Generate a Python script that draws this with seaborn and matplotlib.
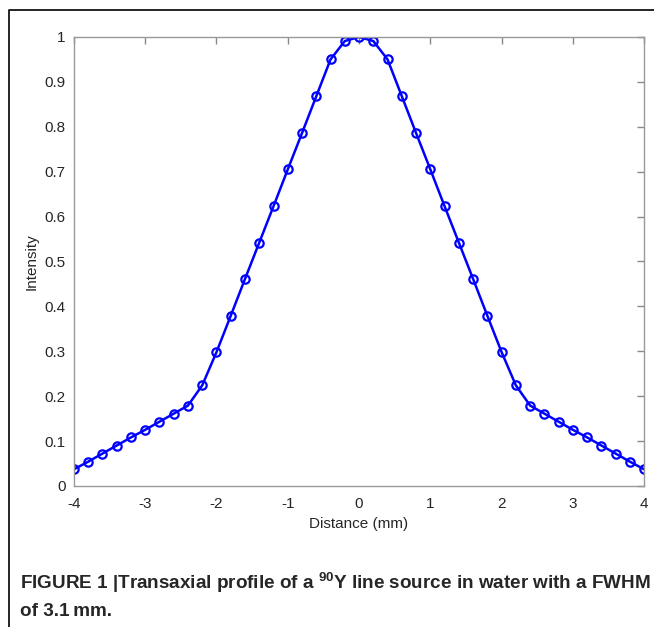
import matplotlib
matplotlib.use("Agg")
import matplotlib.pyplot as plt
import seaborn as sns
import pandas as pd
from matplotlib.lines import Line2D

# profile samples (0.2 mm spacing)
distance = [-4.0, -3.8, -3.6, -3.4, -3.2, -3.0, -2.8, -2.6, -2.4, -2.2, -2.0,
            -1.8, -1.6, -1.4, -1.2, -1.0, -0.8, -0.6, -0.4, -0.2, 0.0,
            0.2, 0.4, 0.6, 0.8, 1.0, 1.2, 1.4, 1.6, 1.8, 2.0,
            2.2, 2.4, 2.6, 2.8, 3.0, 3.2, 3.4, 3.6, 3.8, 4.0]
intensity = [0.037, 0.054, 0.072, 0.090, 0.108, 0.125, 0.143, 0.161, 0.179, 0.224, 0.298,
             0.379, 0.461, 0.542, 0.623, 0.705, 0.786, 0.868, 0.950, 0.991, 1.0,
             0.991, 0.950, 0.868, 0.786, 0.705, 0.623, 0.542, 0.461, 0.379, 0.298,
             0.224, 0.179, 0.161, 0.143, 0.125, 0.108, 0.090, 0.072, 0.054, 0.037]
xticks = [-4, -3, -2, -1, 0, 1, 2, 3, 4]
yticks = [0, 0.1, 0.2, 0.3, 0.4, 0.5, 0.6, 0.7, 0.8, 0.9, 1]
ytick_labels = ["0", "0.1", "0.2", "0.3", "0.4", "0.5", "0.6", "0.7", "0.8", "0.9", "1"]

df = pd.DataFrame({"Distance": distance, "Intensity": intensity})

sns.set_style("white")
plt.rcParams["font.family"] = ["Liberation Sans", "DejaVu Sans"]
plt.rcParams["axes.unicode_minus"] = False
plt.rcParams["mathtext.fontset"] = "custom"
plt.rcParams["mathtext.rm"] = "Liberation Sans"
plt.rcParams["mathtext.bf"] = "Liberation Sans:bold"

fig = plt.figure(figsize=(6.54, 6.27), dpi=100)
ax = fig.add_axes([0.113, 0.225, 0.872, 0.716])

sns.lineplot(data=df, x="Distance", y="Intensity", ax=ax, color="#0000ff",
             linewidth=1.8, marker="o", markersize=6, markerfacecolor="none",
             markeredgecolor="#0000ff", markeredgewidth=1.6)

ax.set_xlim(-4, 4)
ax.set_ylim(0, 1)
ax.set_xticks(xticks)
ax.set_xticklabels([str(t) for t in xticks])
ax.set_yticks(yticks)
ax.set_yticklabels(ytick_labels)
ax.tick_params(direction="in", length=5, width=1, color="#888888", labelsize=11,
               top=True, right=True)
ax.tick_params(axis="x", pad=8)
ax.tick_params(axis="y", pad=6)
for s in ax.spines.values():
    s.set_color("#999999")
    s.set_linewidth(1)
ax.set_xlabel("Distance (mm)", fontsize=11, labelpad=4)
ax.set_ylabel("Intensity", fontsize=11, labelpad=4)

# outer frame of the figure panel
fig.add_artist(Line2D([9 / 654, 9 / 654, 1], [0, 1 - 10 / 627, 1 - 10 / 627],
                      transform=fig.transFigure, color="black", linewidth=1.2))

fig.text(20 / 654, 1 - 583 / 627,
         r"FIGURE 1 |Transaxial profile of a $^{\mathbf{90}}$Y line source in water with a FWHM",
         fontsize=13.6, fontweight="bold", va="center", ha="left")
fig.text(20 / 654, 1 - 611 / 627, "of 3.1\u2009mm.",
         fontsize=13.6, fontweight="bold", va="center", ha="left")

fig.savefig("out.png", dpi=100)
